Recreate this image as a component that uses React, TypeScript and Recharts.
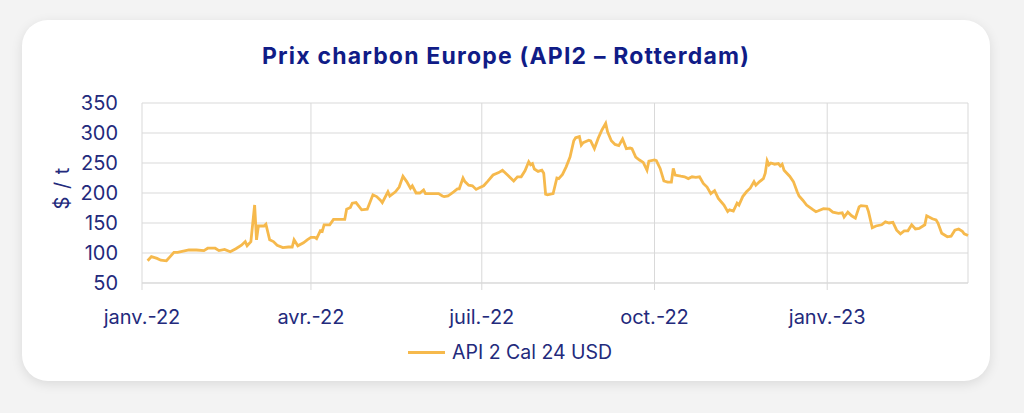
import React from 'react';
import { LineChart, Line, XAxis, YAxis, CartesianGrid } from 'recharts';

// day offsets from 1 Jan 2022
const days = [
  3, 5, 8, 10, 13, 15, 17, 19, 22, 25,
  29, 33, 35, 39, 41, 44, 47, 50, 53, 55,
  56, 58, 60, 61, 62, 65, 66, 68, 70, 72,
  75, 78, 80, 81, 83, 86, 88, 90, 92, 93,
  95, 96, 97, 100, 102, 105, 108, 109, 111, 112,
  114, 117, 120, 123, 125, 127, 128, 131, 132, 135,
  137, 139, 141, 143, 144, 146, 148, 150, 151, 153,
  156, 158, 160, 161, 163, 166, 168, 169, 171, 172,
  174, 176, 178, 180, 182, 184, 187, 190, 192, 195,
  198, 200, 202, 204, 206, 207, 208, 209, 211, 213,
  214, 215, 216, 219, 221, 222, 224, 226, 228, 230,
  231, 233, 234, 235, 238, 239, 241, 243, 245, 247,
  248, 250, 252, 254, 256, 258, 260, 261, 263, 265,
  267, 269, 270, 273, 274, 276, 278, 280, 282, 283,
  284, 287, 289, 291, 293, 295, 297, 299, 301, 303,
  305, 307, 310, 312, 313, 315, 317, 318, 320, 322,
  324, 326, 327, 329, 331, 332, 333, 334, 335, 337,
  339, 340, 341, 342, 345, 347, 349, 350, 352, 354,
  357, 359, 360, 363, 366, 368, 371, 373, 374, 376,
  378, 380, 382, 383, 386, 387, 389, 391, 394, 396,
  398, 400, 402, 404, 406, 408, 410, 412, 414, 417,
  418, 421, 423, 424, 426, 429, 431, 433, 435, 437,
  438, 440,
];

// API 2 Cal 24, $/t
const prices = [
  87, 94, 91, 88, 87, 94, 101, 101, 103, 105,
  105, 104, 108, 108, 104, 106, 102, 107, 113, 119,
  112, 119, 180, 122, 145, 145, 148, 122, 119, 113,
  109, 110, 110, 122, 112, 117, 122, 126, 126, 124,
  137, 136, 147, 147, 156, 156, 156, 173, 176, 183,
  184, 172, 173, 197, 194, 188, 184, 202, 195, 202,
  210, 228, 219, 208, 212, 200, 200, 205, 199, 199,
  199, 199, 195, 194, 195, 202, 207, 207, 225, 219,
  213, 212, 206, 209, 212, 219, 230, 234, 238, 229,
  220, 227, 227, 237, 252, 247, 249, 240, 236, 238,
  233, 198, 197, 199, 225, 224, 231, 244, 260, 287,
  292, 294, 280, 284, 288, 287, 274, 291, 305, 316,
  302, 287, 281, 279, 290, 274, 275, 274, 260, 255,
  251, 238, 253, 255, 254, 241, 220, 218, 218, 241,
  230, 228, 227, 224, 227, 226, 227, 216, 210, 199,
  204, 191, 180, 169, 172, 170, 183, 180, 194, 202,
  208, 219, 213, 219, 224, 233, 254, 247, 250, 248,
  249, 245, 248, 238, 228, 219, 202, 195, 188, 180,
  173, 169, 170, 174, 173, 168, 166, 167, 160, 168,
  162, 158, 177, 179, 178, 169, 142, 145, 147, 152,
  150, 151, 138, 132, 137, 137, 147, 140, 141, 147,
  162, 157, 155, 150, 133, 127, 128, 138, 140, 136,
  132, 129,
];

const xTicks = [0, 90, 181, 273, 365];
const xLabels = ['janv.-22', 'avr.-22', 'juil.-22', 'oct.-22', 'janv.-23'];
const yTicks = [50, 100, 150, 200, 250, 300, 350];

const data = days.map((d, i) => ({ day: d, price: prices[i] }));

const NAVY = '#232a7c';
const LINE = '#f6b94c';
const FONT = 'Inter, "Open Sans", sans-serif';

const App: React.FC = () => {
  return (
    <div style={{ position: 'fixed', left: 0, top: 0, width: 1024, height: 413, background: '#f3f3f3', fontFamily: FONT, overflow: 'hidden' }}>
      {/* card */}
      <div style={{ position: 'absolute', left: 22, top: 20, width: 968, height: 361, background: '#fff', borderRadius: 26, boxShadow: '0 3px 12px rgba(0,0,0,0.10)' }} />

      {/* title */}
      <div style={{ position: 'absolute', left: 22, width: 968, top: 42, textAlign: 'center', fontSize: 23, lineHeight: '28px', fontWeight: 700, letterSpacing: 1.2, color: '#101c87' }}>
        Prix charbon Europe (API2 – Rotterdam)
      </div>

      {/* y axis title */}
      <div style={{ position: 'absolute', left: 62, top: 188, transform: 'translate(-50%, -50%) rotate(-90deg)', fontSize: 20, letterSpacing: 1, color: NAVY, whiteSpace: 'nowrap' }}>
        $ / t
      </div>

      <div style={{ position: 'absolute', left: 0, top: 0 }}>
        <LineChart width={1024} height={413} data={data} margin={{ top: 103, right: 56, bottom: 90, left: 82 }}>
          <CartesianGrid stroke="#d9d9d9" strokeWidth={1} />
          <XAxis
            dataKey="day"
            type="number"
            domain={[0, 440]}
            ticks={xTicks}
            tickFormatter={(v: number) => xLabels[xTicks.indexOf(v)] ?? ''}
            height={40}
            axisLine={{ stroke: '#d9d9d9' }}
            tickLine={{ stroke: '#d9d9d9' }}
            tickSize={7}
            tickMargin={20}
            tick={{ fontSize: 20, fill: NAVY, fontFamily: FONT }}
            interval={0}
          />
          <YAxis
            domain={[50, 350]}
            ticks={yTicks}
            width={60}
            axisLine={false}
            tickLine={false}
            tickMargin={18}
            tick={{ fontSize: 20, fill: NAVY, fontFamily: FONT }}
            interval={0}
          />
          <Line
            type="linear"
            dataKey="price"
            stroke={LINE}
            strokeWidth={2.8}
            dot={false}
            isAnimationActive={false}
          />
        </LineChart>
      </div>

      {/* legend */}
      <div style={{ position: 'absolute', left: 408, top: 340, height: 24, display: 'flex', alignItems: 'center' }}>
        <div style={{ width: 37, height: 3, background: LINE, marginRight: 7 }} />
        <span style={{ fontSize: 19.5, color: NAVY }}>API 2 Cal 24 USD</span>
      </div>
    </div>
  );
};

export default App;
